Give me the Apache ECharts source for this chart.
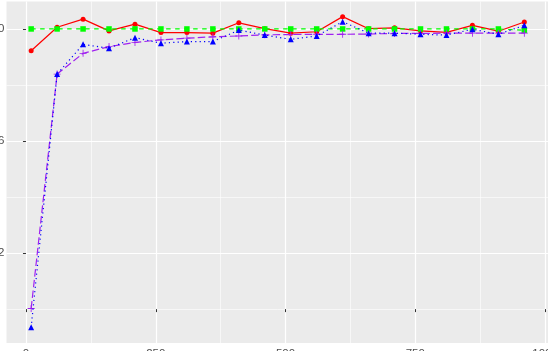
<!DOCTYPE html>
<html>
<head>
<meta charset="utf-8">
<script src="https://cdn.jsdelivr.net/npm/echarts@6/dist/echarts.min.js"></script>
<style>
  html, body { margin: 0; padding: 0; background: #fff; }
  #main { width: 548px; height: 351px; }
</style>
</head>
<body>
<div id="main"></div>
<script>
// x positions of the points and the four series
const xValues = [10, 60, 110, 160, 210, 260, 310, 360, 410, 460, 510, 560, 610, 660, 710, 760, 810, 860, 910, 960]
const redValues = [0.922, 1.006, 1.035, 0.993, 1.017, 0.987, 0.987, 0.985, 1.022, 1.001, 0.985, 0.990, 1.044, 1.001, 1.004, 0.993, 0.988, 1.013, 0.992, 1.025]
const greenValues = [1.0, 1.0, 1.0, 1.0, 1.0, 1.0, 1.0, 1.0, 1.0, 1.0, 1.0, 1.0, 1.0, 1.0, 1.0, 1.0, 1.0, 1.0, 1.0, 0.995]
const blueValues = [-0.065, 0.839, 0.945, 0.931, 0.969, 0.949, 0.955, 0.955, 0.996, 0.978, 0.963, 0.975, 1.026, 0.985, 0.985, 0.981, 0.978, 0.999, 0.981, 1.013]
const purpleValues = [0.002, 0.839, 0.913, 0.937, 0.952, 0.961, 0.967, 0.972, 0.975, 0.979, 0.980, 0.981, 0.981, 0.982, 0.984, 0.984, 0.985, 0.985, 0.985, 0.985]

// tick positions
const xTicks = [0, 250, 500, 750, 1000]
const xMinorTicks = [125, 375, 625, 875]
const yTicks = [0.2, 0.6, 1.0]
const yMinorTicks = [0.0, 0.4, 0.8]

const chart = echarts.init(document.getElementById('main'), null, { renderer: 'canvas' })

function pairs (ys) {
  return xValues.map((x, i) => [x, ys[i]])
}

const tickColor = '#333333'
const labelStyle = { color: '#4D4D4D', fontSize: 11.5, fontFamily: 'Liberation Sans, Arial, sans-serif' }
const plusPath = 'path://M4.4,0H5.6V4.4H10V5.6H5.6V10H4.4V5.6H0V4.4H4.4Z'

const option = {
  animation: false,
  backgroundColor: '#FFFFFF',
  grid: {
    left: 6.5,
    right: -1,
    top: 1.5,
    bottom: 8,
    containLabel: false,
    outerBoundsMode: 'none',
    show: true,
    backgroundColor: '#EBEBEB',
    borderWidth: 0
  },
  xAxis: [
    {
      type: 'value',
      min: -37.5,
      max: 1007.5,
      axisLine: { show: false },
      axisTick: { show: true, length: 3, customValues: xTicks, lineStyle: { color: tickColor, width: 1 } },
      axisLabel: Object.assign({ customValues: xTicks, margin: 4.5, formatter: v => String(v) }, labelStyle),
      splitLine: { show: true, lineStyle: { color: '#FFFFFF', width: 1.2 } }
    },
    {
      type: 'value',
      min: -37.5,
      max: 1007.5,
      position: 'top',
      axisLine: { show: false },
      axisTick: { show: false, customValues: xMinorTicks },
      axisLabel: { show: false, customValues: xMinorTicks },
      splitLine: { show: true, lineStyle: { color: '#FFFFFF', width: 0.6 } }
    }
  ],
  yAxis: [
    {
      type: 'value',
      min: -0.121,
      max: 1.098,
      axisLine: { show: false },
      axisTick: { show: true, length: 3, customValues: yTicks, lineStyle: { color: tickColor, width: 1 } },
      axisLabel: Object.assign({
        customValues: yTicks,
        margin: 2,
        formatter: v => v.toFixed(1)
      }, labelStyle),
      splitLine: { show: true, lineStyle: { color: '#FFFFFF', width: 1.2 } }
    },
    {
      type: 'value',
      min: -0.121,
      max: 1.098,
      position: 'right',
      axisLine: { show: false },
      axisTick: { show: false, customValues: yMinorTicks },
      axisLabel: { show: false, customValues: yMinorTicks },
      splitLine: { show: true, lineStyle: { color: '#FFFFFF', width: 0.6 } }
    }
  ],
  series: [
    {
      name: 'red',
      type: 'line',
      data: pairs(redValues),
      symbol: 'circle',
      symbolSize: 5,
      showAllSymbol: true,
      itemStyle: { color: '#FF0000' },
      lineStyle: { color: '#FF0000', width: 1.2, type: 'solid' },
      z: 2
    },
    {
      name: 'green',
      type: 'line',
      data: pairs(greenValues),
      symbol: 'rect',
      symbolSize: 5.5,
      showAllSymbol: true,
      itemStyle: { color: '#00FF00' },
      lineStyle: { color: '#00FF00', width: 1.2, type: [4.5, 4.5] },
      z: 3
    },
    {
      name: 'purple',
      type: 'line',
      data: pairs(purpleValues),
      symbol: plusPath,
      symbolSize: 7,
      showAllSymbol: true,
      itemStyle: { color: '#A020F0' },
      lineStyle: { color: '#A020F0', width: 1.2, type: [7.5, 3.2] },
      z: 4
    },
    {
      name: 'blue',
      type: 'line',
      data: pairs(blueValues),
      symbol: 'triangle',
      symbolSize: 6,
      showAllSymbol: true,
      itemStyle: { color: '#0000FF' },
      lineStyle: { color: '#0000FF', width: 1.2, type: [1.2, 3.2] },
      z: 5
    }
  ]
}

chart.setOption(option)
</script>
</body>
</html>
